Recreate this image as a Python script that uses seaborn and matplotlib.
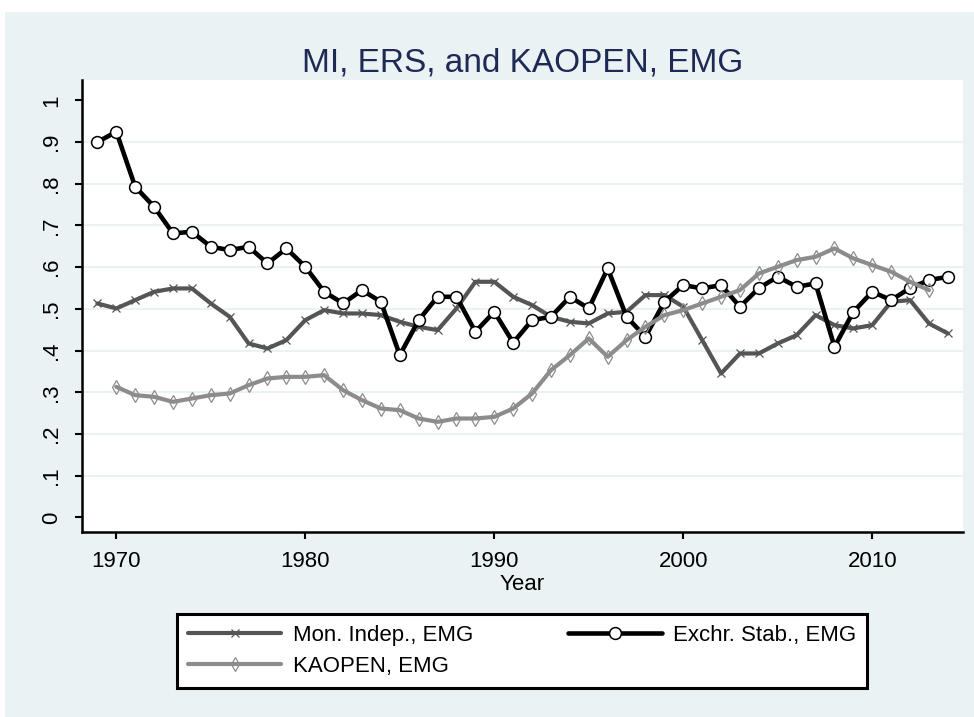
import matplotlib
matplotlib.use("Agg")
import matplotlib.pyplot as plt
import matplotlib.patches as mpatches
import matplotlib.ticker as ticker
import numpy as np
import pandas as pd
import seaborn as sns

# data
years = list(range(1969, 2015))
mon_indep = [0.513, 0.501, 0.521, 0.541, 0.549, 0.549, 0.513, 0.481, 0.417, 0.405,
             0.425, 0.473, 0.497, 0.489, 0.489, 0.485, 0.469, 0.457, 0.449, 0.501,
             0.565, 0.565, 0.529, 0.509, 0.481, 0.469, 0.465, 0.489, 0.493, 0.533,
             0.533, 0.505, 0.425, 0.345, 0.393, 0.393, 0.417, 0.437, 0.485, 0.461,
             0.453, 0.461, 0.517, 0.521, 0.465, 0.441]
exch_stab = [0.900, 0.925, 0.793, 0.745, 0.681, 0.685, 0.649, 0.641, 0.649, 0.609,
             0.645, 0.601, 0.541, 0.513, 0.545, 0.517, 0.389, 0.473, 0.529, 0.529,
             0.445, 0.493, 0.419, 0.473, 0.481, 0.529, 0.501, 0.597, 0.481, 0.433,
             0.517, 0.557, 0.549, 0.557, 0.505, 0.550, 0.577, 0.553, 0.561, 0.409,
             0.493, 0.541, 0.521, 0.550, 0.569, 0.577]
kaopen_years = list(range(1970, 2014))
kaopen = [0.313, 0.293, 0.289, 0.277, 0.285, 0.293, 0.297, 0.317, 0.333, 0.337,
          0.337, 0.341, 0.305, 0.281, 0.261, 0.257, 0.237, 0.229, 0.237, 0.237,
          0.241, 0.261, 0.297, 0.353, 0.389, 0.429, 0.385, 0.425, 0.457, 0.485,
          0.497, 0.513, 0.529, 0.545, 0.585, 0.601, 0.617, 0.625, 0.645, 0.621,
          0.605, 0.589, 0.565, 0.545]

xticks = [1970, 1980, 1990, 2000, 2010]
yticks = [0, 0.1, 0.2, 0.3, 0.4, 0.5, 0.6, 0.7, 0.8, 0.9, 1.0]

df_mi = pd.DataFrame({"Year": years, "value": mon_indep})
df_es = pd.DataFrame({"Year": years, "value": exch_stab})
df_ka = pd.DataFrame({"Year": kaopen_years, "value": kaopen})

PANEL = '#eaf2f3'
W, H = 974, 717

sns.set_style("white")
plt.rcParams['font.family'] = ['Liberation Sans', 'DejaVu Sans']
plt.rcParams['text.color'] = 'black'
plt.rcParams['axes.labelcolor'] = 'black'

fig = plt.figure(figsize=(W / 100, H / 100), dpi=100, facecolor='white')
fig.patches.append(mpatches.Rectangle((5 / W, 0), 1, 1 - 12 / H, transform=fig.transFigure,
                                      facecolor=PANEL, edgecolor='none', zorder=-10))
ax = fig.add_axes([81.7 / W, (H - 531.7) / H, (963 - 81.7) / W, (531.7 - 80) / H])
ax.set_facecolor('white')

sns.lineplot(data=df_mi, x="Year", y="value", ax=ax, color='#555555', lw=3.0,
             marker='x', markersize=6, markeredgewidth=0.9, markeredgecolor='#555555',
             label='Mon. Indep., EMG', zorder=3)
sns.lineplot(data=df_es, x="Year", y="value", ax=ax, color='black', lw=3.3,
             marker='o', markersize=8.5, markerfacecolor='white', markeredgecolor='black',
             markeredgewidth=1.1, label='Exchr. Stab., EMG', zorder=4)
sns.lineplot(data=df_ka, x="Year", y="value", ax=ax, color='#8c8c8c', lw=3.0,
             marker='d', markersize=7, markerfacecolor='none', markeredgecolor='#8c8c8c',
             markeredgewidth=0.9, label='KAOPEN, EMG', zorder=5)

ax.set_xlim(1968.17, 2014.8)
ax.set_ylim(-0.0345, 1.049)
ax.set_xticks(xticks)
ax.set_yticks(yticks)
ax.yaxis.set_major_formatter(ticker.FuncFormatter(
    lambda v, pos: '0' if v == 0 else ('1' if v == 1 else f'{v:.1f}'.lstrip('0'))))

ax.grid(axis='y', color=PANEL, lw=1.5)
ax.grid(axis='x', visible=False)
ax.set_axisbelow(True)
gl = ax.get_ygridlines()
gl[0].set_visible(False)
gl[-1].set_visible(False)

for s in ['top', 'right']:
    ax.spines[s].set_visible(False)
for s in ['left', 'bottom']:
    ax.spines[s].set_visible(True)
    ax.spines[s].set_color('black')
    ax.spines[s].set_linewidth(1.8)

ax.tick_params(direction='out', length=5, width=1.5, color='black', labelsize=16,
               pad=9, labelcolor='black', left=True, bottom=True)
ax.tick_params(axis='y', labelrotation=90)
for lab in ax.get_yticklabels():
    lab.set_va('center')

ax.set_xlabel('Year', fontsize=16, labelpad=1, color='black')
ax.set_ylabel('')
ax.set_title('MI, ERS, and KAOPEN, EMG', fontsize=24, color='#1e2a55', pad=6)

h, l = ax.get_legend_handles_labels()
order = [0, 2, 1]
leg = ax.legend([h[i] for i in order], [l[i] for i in order], ncol=2, mode='expand',
                loc='center', bbox_to_anchor=(177 / W, (H - 691) / H, 690 / W, 80 / H),
                bbox_transform=fig.transFigure, borderaxespad=0, fontsize=16,
                handlelength=4.2, handletextpad=0.5, borderpad=0.5, labelspacing=0.45,
                frameon=True, fancybox=False, framealpha=1, edgecolor='black')
leg.get_frame().set_linewidth(2.2)
for t in leg.get_texts():
    t.set_color('black')

fig.savefig('out.png', dpi=100, facecolor=fig.get_facecolor())
